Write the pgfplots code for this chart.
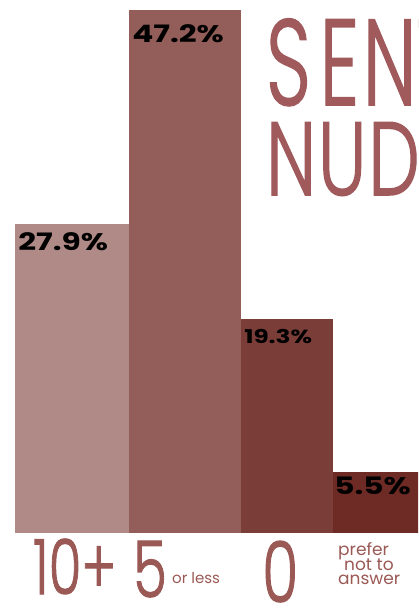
\documentclass[border=0pt]{standalone}
\usepackage{fontspec}
\setmainfont{Poppins}
\newfontfamily\thinfont{Poppins Light}[FakeBold=1.5]
\usepackage{pgfplots}
\pgfplotsset{compat=1.18}
\definecolor{c1}{HTML}{B08A86}
\definecolor{c2}{HTML}{935E59}
\definecolor{c3}{HTML}{7A3D38}
\definecolor{c4}{HTML}{6E2B25}
\definecolor{tc}{HTML}{A05A5C}
\definecolor{lc}{HTML}{9A5955}
\begin{document}
\begin{tikzpicture}[x=1pt,y=1pt]
\useasboundingbox (0,0) rectangle (418,610);
\clip (0,0) rectangle (418,610);
\begin{axis}[at={(0,0)}, anchor=south west, width=418pt, height=610pt,
  scale only axis, hide axis, xmin=0, xmax=418, ymin=-6.95, ymax=48.1, clip=true]
\addplot[ybar, bar shift=0pt, bar width=115, fill=c1, draw=none] coordinates {(72.5,27.9)};
\addplot[ybar, bar shift=0pt, bar width=112, fill=c2, draw=none] coordinates {(185,47.2)};
\addplot[ybar, bar shift=0pt, bar width=92, fill=c3, draw=none] coordinates {(287,19.3)};
\addplot[ybar, bar shift=0pt, bar width=106, fill=c4, draw=none] coordinates {(386,5.5)};
\end{axis}
% value labels
\node[anchor=north west, inner sep=0pt, xscale=1.3, font=\bfseries\fontsize{24}{24}\selectfont] at (18,610-232) {27.9\%};
\node[anchor=north west, inner sep=0pt, xscale=1.3, font=\bfseries\fontsize{24}{24}\selectfont] at (132,610-24) {47.2\%};
\node[anchor=north west, inner sep=0pt, xscale=1.3, font=\bfseries\fontsize{19}{19}\selectfont] at (244,610-329) {19.3\%};
\node[anchor=north west, inner sep=0pt, xscale=1.3, font=\bfseries\fontsize{24}{24}\selectfont] at (334,610-477) {5.5\%};
% title
\node[anchor=base west, inner sep=0pt, text=tc, font=\thinfont\fontsize{122}{100}\selectfont, xscale=0.64] at (266,610-105) {S\hspace{14pt}E\hspace{6pt}N\hspace{0pt}T};
\node[anchor=base west, inner sep=0pt, text=tc, font=\thinfont\fontsize{104}{90}\selectfont, xscale=0.7] at (266,610-195) {N\hspace{3pt}U\hspace{3pt}D\hspace{0pt}E\hspace{2pt}S};
% category labels
\node[anchor=base west, inner sep=0pt, text=lc, font=\thinfont\fontsize{76}{76}\selectfont, xscale=0.7] at (33,610-594) {10+};
\node[anchor=base west, inner sep=0pt, text=lc, font=\thinfont\fontsize{78}{78}\selectfont, xscale=0.7] at (133,610-597) {5};
\node[anchor=base west, inner sep=0pt, text=lc, font=\fontsize{15}{15}\selectfont] at (172,610-583) {or less};
\node[anchor=base west, inner sep=0pt, text=lc, font=\thinfont\fontsize{84}{84}\selectfont, xscale=0.7] at (262,610-602) {0};
\node[anchor=north west, inner sep=0pt, text=lc, align=left, font=\fontsize{17}{16}\selectfont] at (338,610-542) {prefer\\[-2pt]\hspace*{6pt}not to\\[-2pt]answer};
\end{tikzpicture}
\end{document}
